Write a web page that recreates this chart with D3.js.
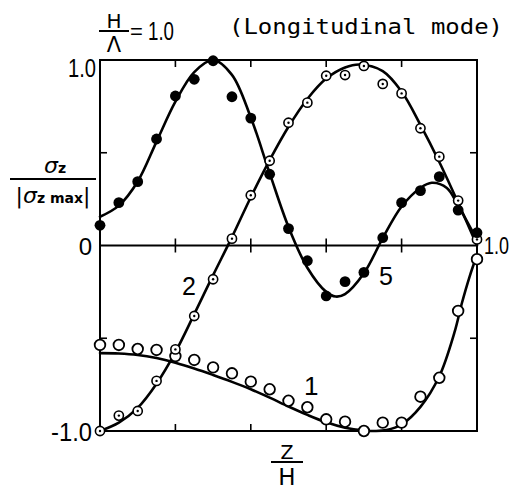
<!DOCTYPE html>
<html>
<head>
<meta charset="utf-8">
<script src="https://cdn.jsdelivr.net/npm/d3@7"></script>
<style>
  html, body { margin: 0; padding: 0; background: #fff; }
  svg { display: block; }
  text { fill: #000; }
</style>
</head>
<body>
<svg id="chart" width="518" height="499"></svg>
<script>
// Normalised stress sigma_z / |sigma_z max| along depth Z/H, H/Lambda = 1.0

// Axis ticks
const xTicks = [0.2, 0.4, 0.6, 0.8];
const yTicks = [-0.5, 0.5];

// Measured points (Z/H positions shared by all modes)
const zMeasured = [0, 0.05, 0.10, 0.15, 0.20, 0.25, 0.30, 0.35, 0.40, 0.45, 0.50,
                   0.55, 0.60, 0.65, 0.70, 0.75, 0.80, 0.85, 0.90, 0.95, 1.0];
const mode1Measured = [-0.536, -0.536, -0.558, -0.563, -0.596, -0.617, -0.657, -0.689, -0.734, -0.775, -0.837,
                       -0.872, -0.937, -0.950, -1.0, -0.955, -0.955, -0.815, -0.713, -0.353, -0.074];
const mode2Measured = [-1.0, -0.917, -0.892, -0.730, -0.560, -0.380, -0.182, 0.037, 0.271, 0.457, 0.662,
                       0.770, 0.915, 0.919, 0.968, 0.871, 0.820, 0.632, 0.479, 0.242, 0.033];
const mode5Measured = [0.109, 0.231, 0.344, 0.574, 0.806, 0.896, 0.996, 0.802, 0.687, 0.384, 0.091,
                       -0.082, -0.272, -0.195, -0.145, 0.042, 0.231, 0.296, 0.371, 0.191, 0.069];

// Calculated curves
const mode1CurveZ = [0, 0.05, 0.10, 0.15, 0.20, 0.25, 0.30, 0.35, 0.40, 0.45, 0.50, 0.55, 0.60, 0.65,
                     0.70, 0.73, 0.76, 0.80, 0.85, 0.90, 0.94, 0.96, 0.98, 1.0];
const mode1CurveV = [-0.580, -0.582, -0.590, -0.607, -0.632, -0.663, -0.698, -0.735, -0.775, -0.820, -0.868, -0.913, -0.953, -0.982,
                     -0.997, -1.0, -0.995, -0.965, -0.870, -0.705, -0.470, -0.310, -0.170, -0.050];
const mode2CurveZ = [0, 0.05, 0.10, 0.15, 0.20, 0.25, 0.30, 0.35, 0.40, 0.45, 0.50, 0.55, 0.60, 0.65,
                     0.69, 0.75, 0.80, 0.85, 0.90, 0.95, 1.0];
const mode2CurveV = [-1.0, -0.955, -0.875, -0.745, -0.575, -0.370, -0.160, 0.045, 0.260, 0.460, 0.640, 0.790, 0.900, 0.960,
                     0.976, 0.940, 0.830, 0.650, 0.450, 0.230, 0.0];
const mode5CurveZ = [0, 0.05, 0.10, 0.15, 0.20, 0.25, 0.30, 0.35, 0.40, 0.45, 0.50, 0.55, 0.60, 0.625,
                     0.65, 0.70, 0.75, 0.80, 0.85, 0.88, 0.92, 0.95, 1.0];
const mode5CurveV = [0.155, 0.215, 0.345, 0.560, 0.775, 0.935, 1.0, 0.920, 0.690, 0.390, 0.100, -0.120, -0.250, -0.275,
                     -0.262, -0.150, 0.040, 0.210, 0.310, 0.338, 0.310, 0.215, 0.030];

const svg = d3.select("#chart");
const x = d3.scaleLinear().domain([0, 1]).range([100, 477]);
const y = d3.scaleLinear().domain([-1, 1]).range([431, 60]);

const ink = "#000";

// Frame
svg.append("rect")
  .attr("x", x(0)).attr("y", y(1))
  .attr("width", x(1) - x(0)).attr("height", y(-1) - y(1))
  .attr("fill", "none").attr("stroke", ink).attr("stroke-width", 2);

// Zero line
svg.append("line")
  .attr("x1", x(0)).attr("x2", x(1)).attr("y1", y(0)).attr("y2", y(0))
  .attr("stroke", ink).attr("stroke-width", 2);

// Tick marks: top (inward), zero line (both sides), bottom (inward)
const tickLen = 7;
const tg = svg.append("g").attr("stroke", ink).attr("stroke-width", 1.6);
tg.selectAll(".tt").data(xTicks).join("line")
  .attr("x1", d => x(d)).attr("x2", d => x(d))
  .attr("y1", y(1)).attr("y2", y(1) + tickLen);
tg.selectAll(".tz").data(xTicks).join("line")
  .attr("x1", d => x(d)).attr("x2", d => x(d))
  .attr("y1", y(0) - tickLen).attr("y2", y(0) + tickLen);
tg.selectAll(".tb").data(xTicks).join("line")
  .attr("x1", d => x(d)).attr("x2", d => x(d))
  .attr("y1", y(-1)).attr("y2", y(-1) - tickLen);
tg.selectAll(".tl").data(yTicks).join("line")
  .attr("x1", x(0)).attr("x2", x(0) + tickLen)
  .attr("y1", d => y(d)).attr("y2", d => y(d));
tg.selectAll(".tr").data(yTicks).join("line")
  .attr("x1", x(1)).attr("x2", x(1) - tickLen)
  .attr("y1", d => y(d)).attr("y2", d => y(d));

// Curves
const line = d3.line().x(d => x(d[0])).y(d => y(d[1])).curve(d3.curveCatmullRom.alpha(0.5));
const curves = [
  d3.zip(mode1CurveZ, mode1CurveV),
  d3.zip(mode2CurveZ, mode2CurveV),
  d3.zip(mode5CurveZ, mode5CurveV)
];
svg.append("g").selectAll("path").data(curves).join("path")
  .attr("d", line)
  .attr("fill", "none").attr("stroke", ink).attr("stroke-width", 2.6)
  .attr("stroke-linejoin", "round").attr("stroke-linecap", "round");

// Mode 1: open circles
svg.append("g").selectAll("circle").data(d3.zip(zMeasured, mode1Measured)).join("circle")
  .attr("cx", d => x(d[0])).attr("cy", d => y(d[1])).attr("r", 5.3)
  .attr("fill", "#fff").attr("stroke", ink).attr("stroke-width", 1.8);

// Mode 2: circles with centre dot
const m2 = svg.append("g").selectAll("g").data(d3.zip(zMeasured, mode2Measured)).join("g")
  .attr("transform", d => `translate(${x(d[0])},${y(d[1])})`);
m2.append("circle").attr("r", 4.6).attr("fill", "#fff").attr("stroke", ink).attr("stroke-width", 1.6);
m2.append("circle").attr("r", 1.2).attr("fill", ink);

// Mode 5: filled dots
svg.append("g").selectAll("circle").data(d3.zip(zMeasured, mode5Measured)).join("circle")
  .attr("cx", d => x(d[0])).attr("cy", d => y(d[1])).attr("r", 5.4)
  .attr("fill", ink);

// Tick labels
const lab = svg.append("g").attr("font-family", "'Liberation Sans', Arial, sans-serif");
lab.append("text").attr("x", 96).attr("y", y(1) + 17).attr("text-anchor", "end")
  .attr("font-size", 26).attr("textLength", 28).attr("lengthAdjust", "spacingAndGlyphs").text("1.0");
lab.append("text").attr("x", 92).attr("y", y(0) + 9).attr("text-anchor", "end")
  .attr("font-size", 24).text("0");
lab.append("text").attr("x", 92).attr("y", y(-1) + 10).attr("text-anchor", "end")
  .attr("font-size", 26).attr("textLength", 41).attr("lengthAdjust", "spacingAndGlyphs").text("-1.0");
lab.append("text").attr("x", 484).attr("y", y(0) + 8)
  .attr("font-size", 24).attr("textLength", 25).attr("lengthAdjust", "spacingAndGlyphs").text("1.0");

// Mode labels
lab.append("text").attr("x", 182).attr("y", 295).attr("font-size", 25).text("2");
lab.append("text").attr("x", 379).attr("y", 285).attr("font-size", 25).text("5");
lab.append("text").attr("x", 304).attr("y", 395).attr("font-size", 26).text("1");

// Y-axis label: sigma_z / |sigma_z max|
const yl = svg.append("g").attr("font-family", "'DejaVu Sans', sans-serif");
const yTop = yl.append("text").attr("x", 55).attr("y", 173).attr("text-anchor", "middle");
yTop.append("tspan").attr("font-size", 22).attr("font-style", "italic").text("σ");
yTop.append("tspan").attr("font-size", 14).attr("font-weight", "bold").text("z");
yl.append("line").attr("x1", 10).attr("x2", 96).attr("y1", 179).attr("y2", 179)
  .attr("stroke", ink).attr("stroke-width", 2);
const yBot = yl.append("text").attr("x", 53).attr("y", 203).attr("text-anchor", "middle");
yBot.append("tspan").attr("font-size", 22).text("|");
yBot.append("tspan").attr("font-size", 22).attr("font-style", "italic").text("σ");
yBot.append("tspan").attr("font-size", 14).attr("font-weight", "bold").text("z max");
yBot.append("tspan").attr("font-size", 22).text("|");

// X-axis label: Z / H
const xl = svg.append("g").attr("font-family", "'DejaVu Sans', sans-serif");
xl.append("text").attr("x", 287).attr("y", 459).attr("text-anchor", "middle")
  .attr("font-size", 19).text("Z");
xl.append("line").attr("x1", 271).attr("x2", 303).attr("y1", 462).attr("y2", 462)
  .attr("stroke", ink).attr("stroke-width", 2);
xl.append("text").attr("x", 287).attr("y", 485).attr("text-anchor", "middle")
  .attr("font-size", 23).text("H");

// Title: H/Lambda = 1.0 (Longitudinal mode)
const tl = svg.append("g").attr("font-family", "'DejaVu Sans', sans-serif");
tl.append("text").attr("x", 114).attr("y", 28).attr("text-anchor", "middle")
  .attr("font-size", 20).text("H");
tl.append("line").attr("x1", 99).attr("x2", 129).attr("y1", 31).attr("y2", 31)
  .attr("stroke", ink).attr("stroke-width", 2);
tl.append("text").attr("x", 114).attr("y", 52).attr("text-anchor", "middle")
  .attr("font-size", 21).text("Λ");
tl.append("text").attr("x", 130).attr("y", 39).attr("font-size", 22)
  .attr("font-family", "'Liberation Sans', sans-serif").text("=");
tl.append("text").attr("x", 148).attr("y", 40).attr("font-size", 25)
  .attr("font-family", "'Liberation Sans', sans-serif")
  .attr("textLength", 26).attr("lengthAdjust", "spacingAndGlyphs").text("1.0");
tl.append("text").attr("x", 229).attr("y", 34).attr("font-size", 22)
  .attr("font-family", "'DejaVu Sans Mono', monospace")
  .attr("textLength", 274).attr("lengthAdjust", "spacingAndGlyphs")
  .text("(Longitudinal mode)");
</script>
</body>
</html>
